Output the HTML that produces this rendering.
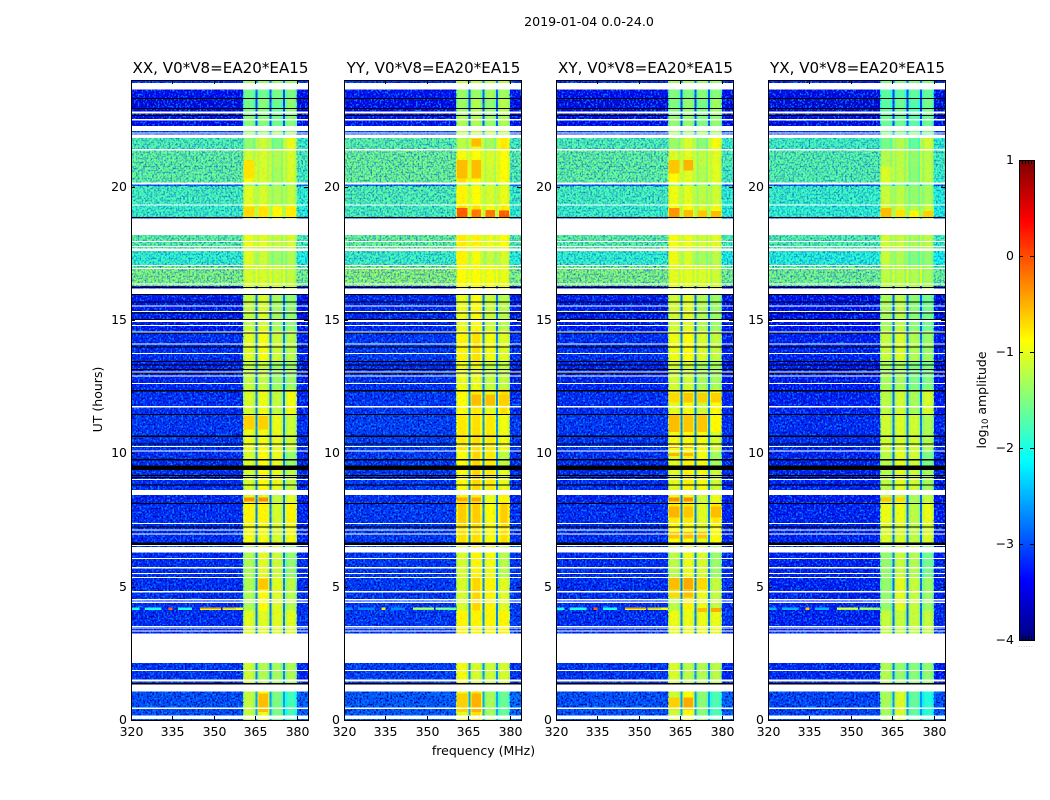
<!DOCTYPE html>
<html lang="en">
<head>
<meta charset="utf-8">
<title>2019-01-04 waterfall</title>
<style>
html,body{margin:0;padding:0;background:#fff;}
svg{display:block;}
text{font-family:"DejaVu Sans","Liberation Sans",sans-serif;fill:#000;}
</style>
</head>
<body>
<svg id="chart" xmlns="http://www.w3.org/2000/svg" width="1050" height="800" viewBox="0 0 1050 800" shape-rendering="crispEdges">
<defs>
<filter id="speckLight" x="0" y="0" width="100%" height="100%" color-interpolation-filters="sRGB"><feTurbulence type="fractalNoise" baseFrequency="0.55 0.5" numOctaves="1" seed="4"/><feColorMatrix values="0 0 0 0 0  0 0 0 0 0.55  0 0 0 0 1  6 0 0 0 -2.9"/></filter>
<filter id="speckDark" x="0" y="0" width="100%" height="100%" color-interpolation-filters="sRGB"><feTurbulence type="fractalNoise" baseFrequency="0.55 0.5" numOctaves="1" seed="11"/><feColorMatrix values="0 0 0 0 0  0 0 0 0 0  0 0 0 0 0.62  0 7 0 0 -3.6"/></filter>
<filter id="speckWarm" x="0" y="0" width="100%" height="100%" color-interpolation-filters="sRGB"><feTurbulence type="fractalNoise" baseFrequency="0.4" numOctaves="1" seed="7"/><feColorMatrix values="0 0 0 0 1  0 0 0 0 0.75  0 0 0 0 0  4 0 0 0 -2.0"/></filter>
</defs>
<text x="589" y="26" font-size="12.6" text-anchor="middle">2019-01-04 0.0-24.0</text>
<text x="483.5" y="755" font-size="12.5" text-anchor="middle">frequency (MHz)</text>
<text x="0" y="0" font-size="12.5" text-anchor="middle" transform="translate(102,399.5) rotate(-90)">UT (hours)</text>
<text x="0" y="0" font-size="12.5" text-anchor="middle" transform="translate(986,400) rotate(-90)">log<tspan font-size="8.5" dy="2">10</tspan><tspan dy="-2"> amplitude</tspan></text>
</svg>
<script>
/* ---------- Data ---------- */
const panelNames = ["XX", "YY", "XY", "YX"];
const panelTitles = ["XX, V0*V8=EA20*EA15", "YY, V0*V8=EA20*EA15", "XY, V0*V8=EA20*EA15", "YX, V0*V8=EA20*EA15"];
const freqTicks = [320, 335, 350, 365, 380];
const utTicks = [0, 5, 10, 15, 20];
const colorTicks = [1, 0, -1, -2, -3, -4];
const freqRange = [320, 384];
const utRange = [0, 24];
const colorRange = [-4, 1];

/* sub-band frequency edges (MHz) */
const subStart = [360.5, 365.7, 370.8, 375.7];
const subEnd = [365.0, 370.0, 375.0, 380.0];
const subEdgeWidth = 0.8;
const subEdgeDrop = 0.2;

/* slowly varying log10 amplitude epochs */
const epochStart = [0,    1.07, 3.24, 4.10, 5.35, 6.65, 7.35, 8.15, 8.63, 9.55, 10.1, 11.45, 12.4, 13.45, 14.6, 16.18, 16.27, 17.02, 17.56, 18.8, 18.86, 19.33, 20.02, 20.15, 20.75, 21.42, 21.95, 22.27, 22.68, 23.28, 23.88];
const epochEnd   = [1.07, 3.24, 4.10, 5.35, 6.65, 7.35, 8.15, 8.63, 9.55, 10.1, 11.45, 12.4, 13.45, 14.6, 16.18, 16.27, 17.02, 17.56, 18.8, 18.86, 19.33, 20.02, 20.15, 20.75, 21.42, 21.95, 22.27, 22.68, 23.28, 23.88, 24];
const lowLevel   = [-3.0, -3.15, -3.2, -3.2, -3.2, -3.2, -3.2, -3.25, -3.2, -3.2, -3.15, -3.2, -3.25, -3.2, -3.3, -3.4, -1.45, -1.85, -1.6, -3.1, -1.8, -1.75, -2.9, -1.6, -1.6, -1.7, -3.1, -3.4, -3.5, -3.4, -3.2];
const highLevel  = [-2.9, -3.25, -3.15, -3.2, -3.2, -3.25, -3.25, -3.3, -3.25, -3.25, -3.2, -3.25, -3.3, -3.25, -3.35, -3.4, -1.5, -1.95, -1.7, -3.1, -1.9, -1.85, -2.9, -1.75, -1.7, -1.8, -3.1, -3.4, -3.5, -3.4, -3.2];
const sub1Level  = [-1.1, -1.05, -0.95, -1.2, -1.2, -0.85, -0.75, -0.95, -1.0, -1.0, -0.9, -1.0, -1.1, -0.95, -1.1, -1.0, -1.0, -0.95, -0.9, -1.0, -0.85, -0.95, -1.3, -0.85, -1.05, -1.35, -1.3, -1.4, -1.5, -1.5, -1.3];
const sub2Level  = [-0.85, -1.2, -0.95, -0.8, -0.95, -0.85, -0.75, -0.95, -0.8, -0.8, -0.85, -0.9, -1.1, -0.85, -1.0, -1.0, -1.0, -1.05, -0.95, -1.0, -0.85, -1.0, -1.3, -1.0, -1.0, -1.05, -1.3, -1.4, -1.4, -1.5, -1.3];
const sub3Level  = [-1.45, -1.25, -0.95, -0.95, -1.05, -1.0, -1.0, -1.1, -0.9, -0.9, -0.9, -1.1, -1.3, -1.05, -1.25, -1.0, -1.05, -1.3, -1.1, -1.0, -1.05, -1.2, -1.3, -1.25, -1.2, -1.45, -1.3, -1.5, -1.55, -1.45, -1.3];
const sub4Level  = [-1.75, -1.2, -0.95, -1.15, -1.35, -0.85, -0.75, -0.95, -1.1, -1.3, -1.05, -0.85, -1.3, -1.15, -1.35, -1.0, -1.1, -1.2, -1.0, -1.0, -0.9, -1.1, -1.3, -1.0, -1.0, -0.9, -1.3, -1.4, -1.35, -1.45, -1.3];

/* polarization offsets added to the epoch levels */
const panelSubShift = [-0.08, 0.12, -0.02, -0.22];
const panelLowShift = [0, 0.06, 0, -0.06];
const panelLineShift = [0, -0.7, 0, -0.5];

/* flagged (blank) time ranges */
const gapStart = [0.045, 0.42, 1.07, 1.45, 1.84, 2.14, 3.33, 3.43, 3.49, 4.38, 4.49, 4.79, 5.34, 5.47, 5.69, 6.04, 6.29, 6.54, 6.98, 7.10, 7.35, 8.43, 9.0, 10.09, 10.24, 11.72, 12.6, 12.88, 13.03, 13.74, 14.08, 14.53, 14.79, 14.92, 15.3, 15.5, 15.94, 16.33, 16.91, 17.02, 17.58, 17.74, 17.94, 18.18, 19.31, 20.09, 21.36, 21.83, 22.0, 22.08, 22.49, 22.75, 23.65];
const gapEnd   = [0.17, 0.46, 1.34, 1.51, 1.88, 3.24, 3.36, 3.46, 3.53, 4.44, 4.53, 4.83, 5.37, 5.52, 5.73, 6.07, 6.48, 6.555, 7.0, 7.15, 7.38, 8.63, 9.04, 10.11, 10.28, 11.77, 12.63, 12.91, 13.07, 13.76, 14.11, 14.57, 14.81, 15.0, 15.34, 15.54, 16.18, 16.37, 16.95, 17.06, 17.68, 17.77, 17.96, 18.8, 19.33, 20.15, 21.42, 21.95, 22.04, 22.27, 22.53, 22.81, 23.88];

/* very low amplitude (black) time ranges */
const darkStart = [1.34, 6.555, 7.23, 8.11, 8.80, 9.07, 9.15, 9.38, 9.74, 10.33, 10.62, 11.44, 12.32, 13.0, 13.15, 13.32, 13.44, 13.97, 14.5, 15.0, 15.25, 15.67, 15.95, 16.2, 18.82, 22.66, 22.92, 23.28];
const darkEnd   = [1.38, 6.65, 7.26, 8.14, 8.83, 9.12, 9.19, 9.55, 9.78, 10.37, 10.67, 11.47, 12.38, 13.03, 13.17, 13.34, 13.46, 14.0, 14.53, 15.04, 15.29, 15.70, 15.98, 16.24, 18.86, 22.69, 22.95, 23.33];

/* interference line near 4.2 h */
const lineUtStart = [4.13, 4.13, 4.13, 4.13, 4.13, 4.13, 4.17, 4.17, 4.13];
const lineUtEnd   = [4.22, 4.22, 4.22, 4.22, 4.20, 4.20, 4.22, 4.22, 4.22];
const lineFreqStart = [320, 325, 333.5, 337, 345, 353, 345, 353, 358];
const lineFreqEnd   = [323, 331, 335, 342, 352.5, 358, 352.5, 358, 360.5];
const lineLevel     = [-2.0, -2.0, -0.1, -2.0, -1.0, -1.2, -0.4, -0.6, -0.9];

/* bright patches inside the sub-bands */
const hotPanel = [
  0,0,0,0, 1,1,1,1, 2,2,2,2, 3,3,3,3,
  0,0, 1,1, 2,2, 3,3,
  1,1, 2,2, 0,
  0, 1,1, 2,2,
  1, 1,1,1,
  2,2,2,2, 2,2,2,2, 2,2, 2,2, 2,2,2, 2,2,2, 2,2, 2,2, 2,2,2,
  0, 0,0
];
const hotBand = [
  0,1,2,3, 0,1,2,3, 0,1,2,3, 0,1,2,3,
  0,1, 0,1, 0,1, 0,1,
  0,1, 0,1, 0,
  1, 0,1, 0,1,
  1, 1,2,3,
  0,1,2,3, 0,1,2,3, 0,1, 0,1, 0,1,3, 0,1,2, 0,1, 2,3, 0,1,2,
  1, 0,1
];
const hotStart = [
  18.87,18.87,18.87,18.87, 18.87,18.87,18.87,18.87, 18.87,18.87,18.87,18.87, 18.87,18.87,18.87,18.87,
  8.2,8.2, 8.2,8.2, 8.2,8.2, 8.2,8.2,
  20.3,20.3, 20.5,20.6, 20.3,
  0.3, 0.3,0.3, 0.4,0.4,
  21.5, 11.8,11.8,11.8,
  10.8,10.8,10.8,10.8, 11.9,11.9,11.9,11.9, 10.2,10.2, 9.9,9.9, 7.6,7.6,7.6, 4.9,4.9,4.9, 4.6,4.6, 4.05,4.05, 6.8,6.8,6.8,
  4.9, 10.9,10.9
];
const hotEnd = [
  19.25,19.25,19.25,19.25, 19.2,19.15,19.12,19.1, 19.2,19.12,19.1,19.08, 19.2,19.12,19.1,19.08,
  8.35,8.35, 8.35,8.35, 8.35,8.35, 8.35,8.35,
  21.0,21.0, 21.0,21.0, 21.0,
  1.0, 1.0,1.0, 0.85,0.85,
  21.8, 12.2,12.2,12.2,
  11.44,11.44,11.44,11.44, 12.26,12.26,12.26,12.26, 10.27,10.27, 10.02,10.02, 8.0,8.0,8.0, 5.35,5.35,5.35, 4.87,4.87, 4.2,4.2, 7.05,7.05,7.05,
  5.3, 11.4,11.4
];
const hotLevel = [
  -0.7,-0.75,-0.85,-0.8, -0.05,-0.2,-0.2,-0.05, -0.35,-0.55,-0.6,-0.55, -0.55,-0.75,-0.85,-0.65,
  -0.3,-0.3, -0.45,-0.45, -0.3,-0.3, -0.6,-0.7,
  -0.55,-0.55, -0.6,-0.5, -0.75,
  -0.55, -0.65,-0.5, -0.65,-0.45,
  -0.55, -0.55,-0.55,-0.65,
  -0.55,-0.6,-0.6,-0.85, -0.7,-0.6,-0.65,-0.65, -0.3,-0.5, -0.5,-0.5, -0.5,-0.6,-0.55, -0.55,-0.45,-0.7, -0.7,-0.55, -0.55,-0.45, -0.6,-0.55,-0.6,
  -0.6, -0.65,-0.65
];

/* ---------- Layout ---------- */
const panelLefts = [131, 344, 556, 768];
const plotWidth = 177;
const plotTop = 80;
const plotBottom = 720;
const barLeft = 1019, barRight = 1034, barTop = 160, barBottom = 640;
const NS = "http://www.w3.org/2000/svg";
const svg = document.getElementById("chart");

function make(tag, attrs, parent) {
  const el = document.createElementNS(NS, tag);
  for (const k in attrs) el.setAttribute(k, attrs[k]);
  parent.appendChild(el);
  return el;
}
function xScale(left, f) { return left + (f - freqRange[0]) / (freqRange[1] - freqRange[0]) * plotWidth; }
function yScale(ut) { return plotBottom - (ut - utRange[0]) / (utRange[1] - utRange[0]) * (plotBottom - plotTop); }
function barScale(v) { return barBottom - (v - colorRange[0]) / (colorRange[1] - colorRange[0]) * (barBottom - barTop); }
function clip01(v) { return Math.max(0, Math.min(1, v)); }
function jet(level) {
  const t = clip01((level - colorRange[0]) / (colorRange[1] - colorRange[0]));
  const r = clip01(Math.min(4 * t - 1.5, -4 * t + 4.5));
  const g = clip01(Math.min(4 * t - 0.5, -4 * t + 3.5));
  const b = clip01(Math.min(4 * t + 0.5, -4 * t + 2.5));
  return "rgb(" + Math.round(r * 255) + "," + Math.round(g * 255) + "," + Math.round(b * 255) + ")";
}
function cell(parent, left, f0, f1, u0, u1, level, fill) {
  const x0 = xScale(left, f0), x1 = xScale(left, f1), yTop = yScale(u1), yBot = yScale(u0);
  const minH = fill ? 1 : 0.6;
  return make("rect", {x: x0, y: yTop, width: Math.max(0, x1 - x0), height: Math.max(minH, yBot - yTop), fill: fill || jet(level)}, parent);
}
const subLevels = [sub1Level, sub2Level, sub3Level, sub4Level];

panelNames.forEach(function (name, p) {
  const left = panelLefts[p];
  const g = make("g", {}, svg);
  
  
  const xLow = xScale(left, freqRange[0]), xSub = xScale(left, subStart[0]), xHigh = xScale(left, subEnd[3]), xEnd = xScale(left, freqRange[1]);

  /* epoch heat cells */
  epochStart.forEach(function (s, i) {
    const e = epochEnd[i];
    const low = lowLevel[i] + panelLowShift[p];
    const high = highLevel[i] + panelLowShift[p];
    const a = cell(g, left, freqRange[0], subStart[0], s, e, low);
    
    
    const gapLevel = low + (low > -2.5 ? 0.5 : 0.4);
    for (let b = 0; b < 4; b++) {
      const c = cell(g, left, subStart[b], subEnd[b], s, e, subLevels[b][i] + panelSubShift[p]);
      
      
      const e1 = cell(g, left, subStart[b], subStart[b] + subEdgeWidth, s, e, subLevels[b][i] + panelSubShift[p] - subEdgeDrop);
      
      
      const e2 = cell(g, left, subEnd[b] - subEdgeWidth, subEnd[b], s, e, subLevels[b][i] + panelSubShift[p] - subEdgeDrop);
      
      
      if (b < 3) {
        const n = cell(g, left, subEnd[b], subStart[b + 1], s, e, gapLevel);
        
        
      }
    }
    const h = cell(g, left, subEnd[3], freqRange[1], s, e, high);
    
    
  });

  /* bright sub-band patches */
  hotPanel.forEach(function (hp, i) {
    if (hp !== p) return;
    const b = hotBand[i];
    const r = cell(g, left, subStart[b] + 0.4, subEnd[b] - 0.4, hotStart[i], hotEnd[i], hotLevel[i]);
    
    
  });

  /* texture layers: strong on the quiet blue epochs, weak on the green ones */
  epochStart.forEach(function (s, i) {
    const yT = yScale(epochEnd[i]), yB = yScale(s);
    const strong = lowLevel[i] < -2.5;
    [[xLow, xSub - xLow], [xHigh, xEnd - xHigh]].forEach(function (seg) {
      const t1 = make("rect", {x: seg[0], y: yT, width: seg[1], height: yB - yT, filter: "url(#speckLight)", opacity: strong ? 0.9 : 0.55}, g);
      
      
      const t2 = make("rect", {x: seg[0], y: yT, width: seg[1], height: yB - yT, filter: "url(#speckDark)", opacity: strong ? 0.85 : 0.3}, g);
      
      
    });
  });
  const t3 = make("rect", {x: xSub, y: plotTop, width: xHigh - xSub, height: plotBottom - plotTop, filter: "url(#speckWarm)", opacity: 0.3}, g);
  
  

  /* interference line */
  lineLevel.forEach(function (lv, i) {
    const r = cell(g, left, lineFreqStart[i], lineFreqEnd[i], lineUtStart[i], lineUtEnd[i], lv + panelLineShift[p]);
    
    
  });

  /* blank and black rows */
  gapStart.forEach(function (s, i) {
    const r = cell(g, left, freqRange[0], freqRange[1], s, gapEnd[i], 0, "#ffffff");
    
    
  });
  darkStart.forEach(function (s, i) {
    const r = cell(g, left, freqRange[0], freqRange[1], s, darkEnd[i], 0, "#000000");
    
    
  });

  /* frame */
  const frame = make("rect", {x: left + 0.5, y: plotTop + 0.5, width: plotWidth, height: plotBottom - plotTop, fill: "none", stroke: "#000", "stroke-width": 1}, g);
  
  

  /* title */
  const title = make("text", {x: left + plotWidth / 2 + 1, y: 73, "font-size": 15.1, "text-anchor": "middle"}, g);
  
  
  title.textContent = panelTitles[p];

  /* x ticks */
  freqTicks.forEach(function (f) {
    const x = Math.round(xScale(left, f)) + 0.5;
    const t1 = make("line", {x1: x, x2: x, y1: plotBottom, y2: plotBottom - 4, stroke: "#000"}, g);
    
    
    const t2 = make("line", {x1: x, x2: x, y1: plotTop, y2: plotTop + 4, stroke: "#000"}, g);
    
    
    const lab = make("text", {x: x, y: 736, "font-size": 12.5, "text-anchor": "middle"}, g);
    
    
    lab.textContent = String(f);
  });

  /* y ticks */
  utTicks.forEach(function (u) {
    const y = Math.round(yScale(u)) + 0.5;
    const t1 = make("line", {x1: left, x2: left + 4, y1: y, y2: y, stroke: "#000"}, g);
    
    
    const t2 = make("line", {x1: left + plotWidth, x2: left + plotWidth - 4, y1: y, y2: y, stroke: "#000"}, g);
    
    
    const lab = make("text", {x: left - 4, y: y + 3.5, "font-size": 12.5, "text-anchor": "end"}, g);
    
    
    lab.textContent = String(u);
  });
});

/* ---------- Colorbar ---------- */
const bar = make("g", {}, svg);


const barSteps = 256;
for (let i = 0; i < barSteps; i++) {
  const v0 = colorRange[0] + (colorRange[1] - colorRange[0]) * i / barSteps;
  const v1 = colorRange[0] + (colorRange[1] - colorRange[0]) * (i + 1) / barSteps;
  const s = make("rect", {x: barLeft, y: barScale(v1), width: barRight - barLeft, height: barScale(v0) - barScale(v1) + 0.5, fill: jet((v0 + v1) / 2)}, bar);
  
  
}
const barFrame = make("rect", {x: barLeft + 0.5, y: barTop + 0.5, width: barRight - barLeft, height: barBottom - barTop, fill: "none", stroke: "#000"}, bar);


colorTicks.forEach(function (v) {
  const y = Math.round(barScale(v)) + 0.5;
  const a = make("line", {x1: barLeft, x2: barLeft + 4, y1: y, y2: y, stroke: "#000"}, bar);
  
  
  const b = make("line", {x1: barRight, x2: barRight - 4, y1: y, y2: y, stroke: "#000"}, bar);
  
  
  const lab = make("text", {x: barLeft - 5, y: y + 3.5, "font-size": 12.5, "text-anchor": "end"}, bar);
  
  
  lab.textContent = String(v).replace("-", "\u2212");
});
for (let k = 1; k <= 4; k++) {
  const x = barLeft + 3 * k + 0.5;
  const a = make("line", {x1: x, x2: x, y1: barTop, y2: barTop + 4, stroke: "#000"}, bar);
  
  
  const b = make("line", {x1: x, x2: x, y1: barBottom, y2: barBottom - 4, stroke: "#000"}, bar);
  
  
}
const dots = make("text", {x: barLeft + 7, y: 647, "font-size": 5, "text-anchor": "middle", style: "fill:#777;letter-spacing:1px"}, bar);


dots.textContent = "......";
</script>
</body>
</html>
